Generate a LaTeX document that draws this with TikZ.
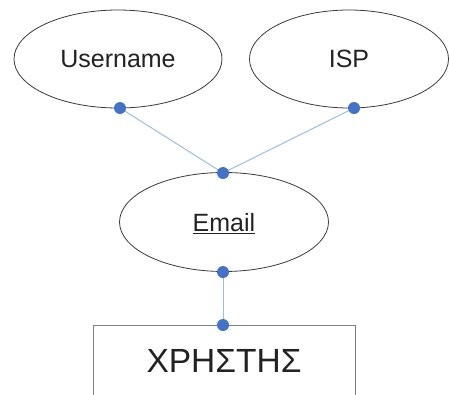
\documentclass[tikz,border=0pt]{standalone}
\usepackage{fontspec}
\setmainfont{Liberation Sans}
\usetikzlibrary{shapes.geometric,backgrounds}
\definecolor{outline}{HTML}{3A3A3A}
\definecolor{boxline}{HTML}{7F7F7F}
\definecolor{linkline}{HTML}{9CBDDF}
\definecolor{dotblue}{HTML}{4472C4}
\definecolor{txt}{HTML}{222222}
\tikzset{
  attr/.style={ellipse, draw=outline, line width=0.8pt, inner sep=0pt,
    text=txt, font=\fontsize{25}{30}\selectfont},
  entity/.style={rectangle, draw=boxline, line width=1pt, inner sep=0pt,
    minimum width=262pt, minimum height=72pt, text=txt,
    font=\fontsize{33.5}{40}\selectfont},
  dot/.style={circle, fill=dotblue, inner sep=0pt, minimum size=12pt},
  link/.style={draw=linkline, line width=1pt}
}
\begin{document}
\begin{tikzpicture}[x=1pt, y=-1pt]
  \useasboundingbox (0,0) rectangle (449,394);
  \clip (0,0) rectangle (449,394);

  % attributes and entity
  \node[attr, minimum width=208pt, minimum height=98pt] (user) at (118,59) {Username};
  \node[attr, minimum width=199pt, minimum height=98pt] (isp) at (349,59) {ISP};
  \node[attr, minimum width=209pt, minimum height=99pt, text depth=0pt] (email) at (224,222) {\underline{Email}};
  \node[entity] (xristis) at (224,361) {ΧΡΗΣΤΗΣ};

  % connection points
  \node[dot] (pu) at (120,108) {};
  \node[dot] (pi) at (354,108) {};
  \node[dot] (pe) at (223,173) {};
  \node[dot] (pb) at (223,272) {};
  \node[dot] (px) at (223,325) {};

  % connectors, kept underneath the points
  \begin{scope}[on background layer]
    \path[link] (pu.center) -- (pe.center);
    \path[link] (pi.center) -- (pe.center);
    \path[link] (pb.center) -- (px.center);
  \end{scope}
\end{tikzpicture}
\end{document}
